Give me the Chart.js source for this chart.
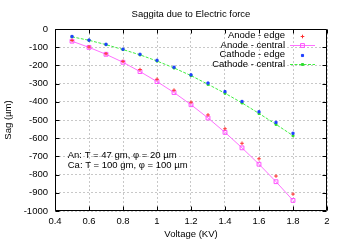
<!DOCTYPE html>
<html>
<head>
<meta charset="utf-8">
<script src="https://cdn.jsdelivr.net/npm/chart.js@4/dist/chart.umd.min.js"></script>
<style>
html,body{margin:0;padding:0;background:#fff;}
canvas{display:block;}
</style>
</head>
<body>
<canvas id="c" width="343" height="240"></canvas>
<script>
const chartTitle = "Saggita due to Electric force";
const xTitle = "Voltage (KV)";
const yTitle = "Sag (\u00b5m)";
const seriesLabels = ["Anode - edge", "Anode - central", "Cathode - edge", "Cathode - central"];
const notes = ["An: T = 47 gm, \u03c6 = 20 \u00b5m", "Ca: T = 100 gm, \u03c6 = 100 \u00b5m"];

const voltage = [0.5, 0.6, 0.7, 0.8, 0.9, 1.0, 1.1, 1.2, 1.3, 1.4, 1.5, 1.6, 1.7, 1.8];
const anodeEdge = [-63, -99, -136, -178, -223, -276, -336, -402, -472, -548, -628, -713, -808, -907];
const anodeCentral = [-67, -101, -139, -183, -234, -289, -349, -416, -489, -568, -653, -743, -839, -942];
const cathodeEdge = [-41, -61, -84, -111, -139, -172, -210, -252, -297, -344, -398, -455, -513, -573];
const cathodeCentral = [-43, -62, -86, -113, -142, -176, -214, -256, -304, -353, -406, -464, -524, -586];

const xTicks = [0.4, 0.6, 0.8, 1.0, 1.2, 1.4, 1.6, 1.8, 2.0];
const yTicks = [0, -100, -200, -300, -400, -500, -600, -700, -800, -900, -1000];

const FONT = "'Liberation Sans', Arial, Helvetica, sans-serif";
const FS = 9.5;

function pts(ys) { return voltage.map((x, i) => ({x: x, y: ys[i]})); }

function drawMarker(ctx, ds, x, y) {
  const style = ds.pointStyle, r = ds.pointRadius;
  ctx.save();
  ctx.lineWidth = ds.pointBorderWidth || 1;
  ctx.strokeStyle = ds.pointBorderColor;
  ctx.fillStyle = ds.pointBackgroundColor;
  ctx.beginPath();
  if (style === 'cross') {
    ctx.moveTo(x - r, y); ctx.lineTo(x + r, y);
    ctx.moveTo(x, y - r); ctx.lineTo(x, y + r);
    ctx.stroke();
  } else {
    const s = r * Math.SQRT1_2;
    ctx.rect(x - s, y - s, 2 * s, 2 * s);
    ctx.fill();
    ctx.stroke();
  }
  ctx.restore();
}

const framePlugin = {
  id: 'frame',
  afterDraw(chart) {
    const ctx = chart.ctx, a = chart.chartArea;
    const xs = chart.scales.x, ys = chart.scales.y;
    const L = Math.round(a.left) + 0.5, R = Math.round(a.right) - 0.5;
    const T = Math.round(a.top) + 0.5, B = Math.round(a.bottom) - 0.5;
    ctx.save();
    ctx.strokeStyle = '#000';
    ctx.lineWidth = 1;
    ctx.beginPath();
    ctx.rect(L, T, R - L, B - T);
    const tl = 4;
    xTicks.forEach(v => {
      const px = Math.round(xs.getPixelForValue(v)) + 0.5;
      ctx.moveTo(px, B); ctx.lineTo(px, B - tl);
      ctx.moveTo(px, T); ctx.lineTo(px, T + tl);
    });
    yTicks.forEach(v => {
      const py = Math.round(ys.getPixelForValue(v)) + 0.5;
      ctx.moveTo(L, py); ctx.lineTo(L + tl, py);
      ctx.moveTo(R, py); ctx.lineTo(R - tl, py);
    });
    ctx.stroke();

    // legend (inside, top right, text right-aligned, sample on the right)
    ctx.font = FS + 'px ' + FONT;
    ctx.fillStyle = '#000';
    ctx.textAlign = 'right';
    ctx.textBaseline = 'middle';
    const tx = a.right - 42, s0 = a.right - 37, s1 = a.right - 12, sm = (s0 + s1) / 2;
    chart.data.datasets.forEach((ds, i) => {
      const y = a.top + 6.5 + i * 9.5;
      ctx.fillStyle = '#000';
      ctx.fillText(ds.label, tx, y);
      if (ds.showLine) {
        ctx.save();
        ctx.strokeStyle = ds.borderColor;
        ctx.lineWidth = ds.borderWidth;
        ctx.setLineDash(ds.borderDash || []);
        ctx.beginPath();
        ctx.moveTo(s0, Math.round(y) + 0.5); ctx.lineTo(s1, Math.round(y) + 0.5);
        ctx.stroke();
        ctx.restore();
      }
      drawMarker(ctx, ds, sm, Math.round(y) + 0.5);
    });

    // annotation
    ctx.textAlign = 'left';
    ctx.fillStyle = '#000';
    notes.forEach((t, i) => {
      ctx.fillText(t, xs.getPixelForValue(0.475), ys.getPixelForValue(-697) + i * 9.6);
    });
    ctx.restore();
  }
};

new Chart(document.getElementById('c'), {
  type: 'scatter',
  data: {
    datasets: [
      {label: seriesLabels[0], data: pts(anodeEdge), showLine: false,
       pointStyle: 'cross', pointRadius: 1.8, pointBorderWidth: 1,
       pointBorderColor: '#ff3030', pointBackgroundColor: '#ff3030', borderColor: '#ff3030'},
      {label: seriesLabels[1], data: pts(anodeCentral), showLine: true,
       borderColor: '#ff70ff', borderWidth: 1,
       pointStyle: 'rect', pointRadius: 2.7, pointBorderWidth: 1,
       pointBorderColor: '#ff50ff', pointBackgroundColor: 'rgba(255,255,255,0)'},
      {label: seriesLabels[2], data: pts(cathodeEdge), showLine: false,
       pointStyle: 'rect', pointRadius: 1.5, pointBorderWidth: 1,
       pointBorderColor: '#2040ff', pointBackgroundColor: '#2040ff', borderColor: '#2040ff'},
      {label: seriesLabels[3], data: pts(cathodeCentral), showLine: true,
       borderColor: '#40ee40', borderWidth: 1, borderDash: [3, 1.5],
       pointStyle: 'rect', pointRadius: 1.4, pointBorderWidth: 1,
       pointBorderColor: '#30dd30', pointBackgroundColor: '#30dd30'}
    ]
  },
  options: {
    responsive: false,
    animation: false,
    devicePixelRatio: 1,
    layout: {padding: {left: 0, right: 16, top: 0, bottom: 0}},
    plugins: {
      legend: {display: false},
      tooltip: {enabled: false},
      title: {display: true, fullSize: false, text: chartTitle, color: '#000',
              font: {family: FONT, size: FS, weight: 'normal'},
              padding: {top: 9, bottom: 8.6}}
    },
    scales: {
      x: {
        type: 'linear', min: 0.4, max: 2.0,
        afterBuildTicks: s => { s.ticks = xTicks.map(v => ({value: v})); },
        afterFit: s => { s.height = 29; },
        ticks: {color: '#000', font: {family: FONT, size: FS}, padding: 5,
                maxRotation: 0, autoSkip: false,
                callback: v => String(+Number(v).toFixed(1))},
        grid: {color: '#c8c8c8', drawTicks: false, lineWidth: 1},
        border: {display: false, dash: [2, 2]},
        title: {display: true, text: xTitle, color: '#000',
                font: {family: FONT, size: FS}, padding: {top: 0, bottom: 0}}
      },
      y: {
        type: 'linear', min: -1000, max: 0,
        afterBuildTicks: s => { s.ticks = yTicks.map(v => ({value: v})); },
        afterFit: s => { s.width = 55; },
        ticks: {color: '#000', font: {family: FONT, size: FS}, padding: 7,
                autoSkip: false, callback: v => String(v)},
        grid: {color: '#c8c8c8', drawTicks: false, lineWidth: 1},
        border: {display: false, dash: [2, 2]},
        title: {display: true, text: yTitle, color: '#000',
                font: {family: FONT, size: FS}, padding: {top: 3, bottom: 0}}
      }
    }
  },
  plugins: [framePlugin]
});
</script>
</body>
</html>
